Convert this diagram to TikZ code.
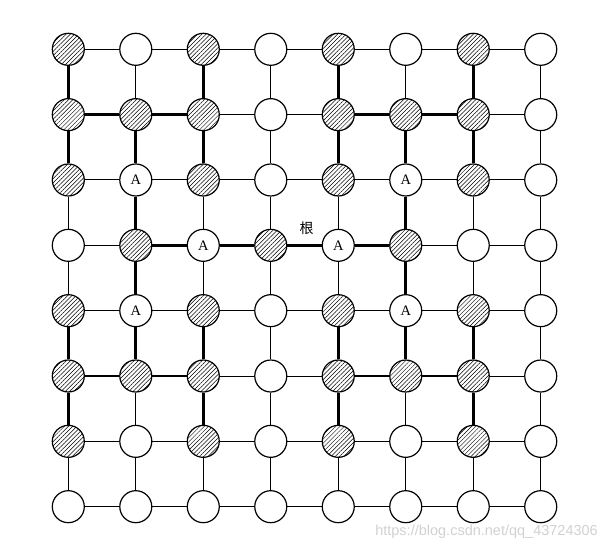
\documentclass[tikz,border=0pt]{standalone}
\usepackage{fontspec}
\setmainfont{Liberation Serif}
\newfontfamily\cjk{Noto Sans CJK SC}
\newfontfamily\wm{Liberation Sans}
\usetikzlibrary{patterns.meta}
\begin{document}
\begin{tikzpicture}[x=1pt,y=-1pt,
  vtx/.style={circle,draw,line width=1.2pt,minimum size=32pt,inner sep=0pt,fill=white,
    font=\fontsize{14.5}{14.5}\selectfont},
  hat/.style={vtx,postaction={pattern={Lines[angle=45,distance=3pt,line width=0.5pt]}}},
  edgethin/.style={line width=1pt},
  edgethick/.style={line width=2.8pt},
]
\useasboundingbox (0,0) rectangle (608,550);
% white nodes
\foreach \r/\cs in {0/{1,3,5,7},1/{3,7},2/{3,7},3/{0,6,7},4/{3,7},5/{3,7},6/{1,3,5,7},7/{0,1,2,3,4,5,6,7}}{
  \foreach \c in \cs {
    \node[vtx] (n\r\c) at ({68.3+67.49*\c},{49.3+65.34*\r}) {};
  }
}
% hatched nodes
\foreach \r/\cs in {0/{0,2,4,6},1/{0,1,2,4,5,6},2/{0,2,4,6},3/{1,3,5},4/{0,2,4,6},5/{0,1,2,4,5,6},6/{0,2,4,6}}{
  \foreach \c in \cs {
    \node[hat] (n\r\c) at ({68.3+67.49*\c},{49.3+65.34*\r}) {};
  }
}
% A nodes
\foreach \r/\c in {2/1,2/5,3/2,3/4,4/1,4/5}{
  \node[vtx] (n\r\c) at ({68.3+67.49*\c},{49.3+65.34*\r}) {A};
}
% thick edges
\foreach \e in {h-1-0,h-1-1,h-1-4,h-1-5,h-3-1,h-3-2,h-3-3,h-3-4,h-5-0,h-5-1,h-5-4,h-5-5,
  v-0-0,v-1-0,v-4-0,v-5-0,v-1-1,v-2-1,v-3-1,v-4-1,v-0-2,v-1-2,v-4-2,v-5-2,
  v-0-4,v-1-4,v-4-4,v-5-4,v-1-5,v-2-5,v-3-5,v-4-5,v-0-6,v-1-6,v-4-6,v-5-6}{
  \expandafter\gdef\csname thk-\e\endcsname{}
}
% horizontal edges
\foreach \r in {0,...,7}{
  \foreach \c in {0,...,6}{
    \pgfmathtruncatemacro\cc{\c+1}
    \ifcsname thk-h-\r-\c\endcsname\def\sty{edgethick}\else\def\sty{edgethin}\fi
    \draw[\sty] (n\r\c) -- (n\r\cc);
  }
}
% vertical edges
\foreach \r in {0,...,6}{
  \foreach \c in {0,...,7}{
    \pgfmathtruncatemacro\rr{\r+1}
    \ifcsname thk-v-\r-\c\endcsname\def\sty{edgethick}\else\def\sty{edgethin}\fi
    \draw[\sty] (n\r\c) -- (n\rr\c);
  }
}
\node[font=\cjk\fontsize{14}{14}\selectfont] (root) at (306.7,228) {根};
\node[text=black!18,font=\wm\fontsize{14.5}{14.5}\selectfont,anchor=east,inner sep=0pt] (wmark) at (598,531.5) {https://blog.csdn.net/qq\_43724306};
\end{tikzpicture}
\end{document}
